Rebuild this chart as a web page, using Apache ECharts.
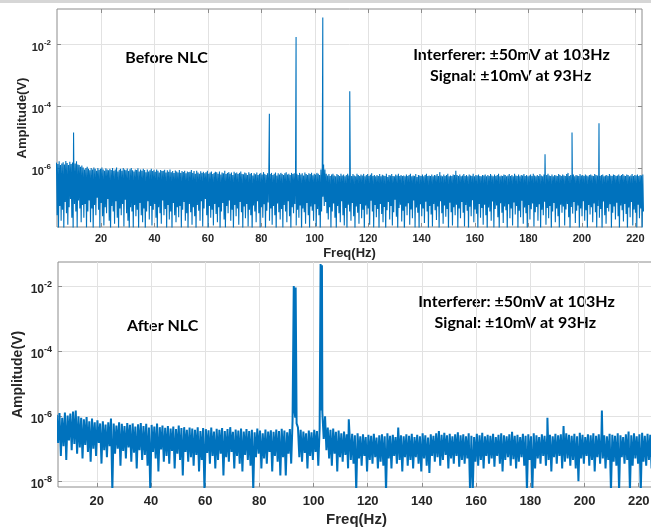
<!DOCTYPE html>
<html>
<head>
<meta charset="utf-8">
<script src="https://cdn.jsdelivr.net/npm/echarts@6/dist/echarts.min.js"></script>
<style>
html, body { margin: 0; padding: 0; background: #fff; }
#chart { width: 651px; height: 529px; }
</style>
</head>
<body>
<div id="chart"></div>
<script>
// noise floor, in nV.
// hi[i] sits at f0 + i*step Hz, lo[i] half a step later
const beforeF0 = 3.3;
const beforeStep = 0.5;
const beforeHi = [
  1500,1350,1650,1250,1400,1550,1300,1700,1450,1250,1600,1350,1500,1200,1400,1650,1300,1250,1100,1200,
  1050,900,1000,1100,950,850,1000,900,1050,950,820,1000,880,950,1050,900,820,980,900,850,
  950,860,1000,820,900,1050,780,880,950,820,1000,900,850,960,800,920,1000,850,780,900,
  870,980,780,900,820,950,860,740,900,780,850,950,800,880,760,900,820,720,860,800,
  820,880,720,850,760,900,740,800,690,840,780,720,860,700,800,750,820,680,780,740,
  760,860,700,800,660,820,720,650,790,700,760,680,740,820,660,720,780,640,700,760,
  740,660,780,620,720,680,820,640,700,740,660,720,600,760,680,720,640,700,780,650,
  630,720,680,600,740,650,700,580,680,630,720,600,660,700,620,740,650,600,680,720,
  640,700,600,660,720,580,680,620,700,650,600,680,740,620,660,600,700,640,680,620,
  660,600,700,620,680,580,720,640,600,680,640,700,590,660,620,700,650,600,900,1100,
  1300,900,660,580,640,560,620,660,580,540,640,600,560,660,580,620,540,600,660,580,
  600,560,640,580,540,660,600,560,620,580,650,540,600,640,560,610,680,560,600,540,
  600,560,640,540,610,580,560,660,520,600,580,640,560,540,620,580,660,560,600,550,
  580,540,620,560,600,660,540,580,560,640,520,600,580,560,620,540,600,660,560,580,
  560,620,540,600,580,640,560,740,580,540,620,560,600,660,540,580,560,620,600,820,
  600,560,620,540,580,640,560,600,540,620,580,560,660,540,600,580,620,560,540,600,
  580,620,540,600,560,640,580,540,620,560,600,660,540,580,560,620,600,540,580,640,
  560,600,540,660,580,560,620,540,600,580,640,560,600,540,580,620,560,660,580,540,
  600,560,640,580,540,620,560,600,660,580,560,620,540,600,580,560,640,600,560,620,
  580,560,640,700,560,600,580,620,540,600,580,560,640,580,600,560,620,580,540,600,
  620,580,560,640,600,580,660,560,600,620,540,580,600,560,640,580,560,620,600,560,
  580,620,560,600,640,580,560,620,600,540,580,640,560,600,580,620,560,600,580,620
];
const beforeLo = [
  30,9,60,20,45,10,80,35,15,55,100,25,8,70,40,12,90,50,18,65,
  25,70,12,40,90,18,50,9,65,30,110,45,11,75,28,14,55,35,100,20,
  9,60,40,16,85,25,10,50,30,70,13,95,35,20,8,55,40,12,65,28,
  45,10,75,30,18,50,9,40,85,22,60,14,45,70,25,10,55,35,16,90,
  30,48,11,65,22,40,9,75,30,18,55,26,60,12,45,80,20,35,10,70,
  38,15,55,28,9,65,42,20,85,13,50,100,30,10,60,25,45,14,70,33,
  18,55,9,40,75,22,12,60,35,90,20,45,10,65,28,50,15,80,38,11,
  58,24,70,13,45,30,9,62,40,18,85,35,12,55,25,68,10,42,78,20,
  50,15,60,30,9,72,38,22,48,12,65,40,18,85,28,10,55,35,70,14,
  45,25,62,9,50,38,16,75,30,11,58,42,20,68,13,48,30,9,40,120,
  60,80,35,22,55,12,40,72,25,10,60,35,18,85,30,14,52,9,66,40,
  20,75,28,11,58,36,16,70,24,45,9,62,32,50,15,88,40,12,64,26,
  48,10,70,33,18,56,9,44,80,22,60,14,38,95,27,11,52,66,19,42,
  8,58,30,74,15,46,24,90,12,54,36,10,68,28,50,17,82,40,9,60,
  32,13,70,44,21,58,10,86,35,16,62,27,48,9,76,38,14,55,30,66,
  11,50,24,80,36,13,64,42,9,57,28,92,18,46,34,10,70,25,52,15,
  66,30,8,54,40,20,84,12,48,62,26,10,73,36,17,58,44,9,68,24,
  50,14,78,32,60,11,42,26,88,16,54,35,9,64,22,47,72,13,38,56,
  20,68,10,45,30,82,15,52,24,60,9,40,75,18,50,28,12,66,36,58,
  14,46,70,26,9,56,34,80,17,42,62,11,50,28,86,20,44,10,64,32,
  55,18,72,38,12,60,25,48,9,84,30,16,52,40,68,11,36,58,22,76,
  28,10,62,44,19,70,33,9,54,26,80,14,46,36,12,66,24,50,9,40
];
// [Hz, V]
const beforePeaks = [
  [9.7, 1.4e-5], [83.0, 5.7e-5], [93.0, 1.7e-2], [103.0, 7.2e-2],
  [113.1, 3.0e-4], [186.2, 2.8e-6], [196.3, 1.4e-5], [206.4, 2.8e-5]
];

const afterF0 = 5.25;
const afterStep = 1;
const afterHi = [
  1100,1250,900,1300,1050,1200,1400,1500,1000,900,
  800,950,700,850,650,750,600,700,550,650,
  850,600,520,650,580,500,620,540,600,480,
  560,620,500,580,450,540,480,600,460,520,
  440,500,420,480,400,520,430,460,380,450,
  420,380,460,350,430,400,370,450,340,410,
  380,430,350,400,460,330,390,360,420,340,
  400,350,380,320,420,360,300,390,340,370,
  330,390,350,410,360,320,400,700,900,450,
  380,340,300,360,320,380,350,420,1300,1000,
  450,380,420,330,360,300,340,280,320,290,
  260,300,240,280,230,270,250,290,220,260,
  280,240,300,250,270,230,450,260,240,280,
  250,290,230,270,240,300,260,220,280,250,
  300,350,270,310,260,290,240,280,320,260,
  280,240,300,250,230,290,260,310,240,270,
  250,290,230,270,300,260,240,280,330,250,
  270,230,290,250,280,240,300,260,230,280,
  250,300,270,240,290,260,280,500,300,270,
  250,290,240,310,270,230,280,260,300,250,
  280,300,260,240,290,270,250,300,260,230,
  280,340,260,300,240,280,310,250,290,270,260
];
const afterLo = [
  150,60,120,45,180,90,140,70,110,50,
  130,80,40,100,60,150,35,90,55,120,
  5,70,100,30,85,50,110,40,75,25,
  90,45,65,30,5,80,50,20,95,40,
  60,35,85,25,70,45,15,80,40,55,
  30,65,20,45,5,75,35,60,25,45,
  70,15,55,40,80,25,60,35,20,65,
  45,30,5,55,70,25,50,35,80,20,
  60,40,15,55,15,70,35,2000,600,55,
  40,75,25,60,45,80,30,1500,200,90,
  50,30,70,20,55,40,65,25,45,35,
  5,50,30,60,20,45,35,55,25,40,
  30,5,50,25,60,35,45,20,55,30,
  45,25,55,35,20,50,30,18,60,40,
  55,30,45,65,25,50,35,60,28,45,
  35,50,5,5,40,30,45,25,60,35,
  50,28,60,35,20,45,55,30,48,25,
  40,55,30,5,45,5,25,50,35,60,
  30,45,20,55,35,60,25,40,50,30,
  45,25,10,50,35,60,30,45,20,55,
  35,50,25,45,5,40,30,5,55,35,
  45,5,30,50,35,5,40,30,45,25,40
];
const afterPeaks = [
  [92.7, 1.0e-2], [93.4, 9.0e-3], [102.6, 4.7e-2], [103.1, 4.3e-2],
  [113.0, 8.0e-7], [186.3, 9.0e-7], [206.4, 1.5e-6]
];

const xTicks = [20, 40, 60, 80, 100, 120, 140, 160, 180, 200, 220];
const yTicks = [1e-8, 1e-6, 1e-4, 1e-2];

const blue = '#0072BD';
const frame = '#8c8c8c';
const gridColor = '#e2e2e2';
const ink = '#262626';

function spectrum(f0, step, hi, lo, peaks) {
  const pts = [];
  for (let i = 0; i < hi.length; i++) {
    pts.push([f0 + i * step, hi[i] * 1e-9]);
    if (i < lo.length) pts.push([f0 + (i + 0.5) * step, lo[i] * 1e-9]);
  }
  peaks.forEach(p => pts.push(p));
  pts.sort((a, b) => a[0] - b[0]);
  return pts;
}

function powLabel(v) {
  const e = Math.round(Math.log10(v));
  return '{b|10}{s|' + e + '}';
}

function xAxisFor(grid, min, max, fs, gap, top) {
  return {
    gridIndex: grid, type: 'value', min: min, max: max,
    position: top ? 'top' : 'bottom',
    axisLine: { show: false },
    axisTick: { inside: true, length: 4, customValues: xTicks, lineStyle: { color: frame } },
    axisLabel: top ? { show: false } : {
      customValues: xTicks, fontSize: fs, fontWeight: 'bold', color: ink,
      fontFamily: 'Liberation Sans', margin: fs === 11 ? 6 : 8
    },
    splitLine: top ? { show: false } : { lineStyle: { color: gridColor } },
    name: top ? '' : 'Freq(Hz)', nameLocation: 'middle', nameGap: gap,
    nameTextStyle: { fontSize: fs + 2, fontWeight: 'bold', color: ink, fontFamily: 'Liberation Sans' }
  };
}

function yAxisFor(grid, minExp, maxExp, fs, gap, right) {
  return {
    gridIndex: grid, type: 'log', logBase: 10,
    min: Math.pow(10, minExp), max: Math.pow(10, maxExp),
    position: right ? 'right' : 'left',
    axisLine: { show: false },
    axisTick: { inside: true, length: 4, customValues: yTicks, lineStyle: { color: frame } },
    axisLabel: right ? { show: false } : {
      customValues: yTicks, formatter: powLabel, margin: 6,
      rich: {
        b: { fontSize: fs, fontWeight: 'bold', color: ink, fontFamily: 'Liberation Sans', padding: [7, 0, 0, 0] },
        s: { fontSize: fs - 3, fontWeight: 'bold', color: ink, fontFamily: 'Liberation Sans', padding: [0, 0, 3, 0] }
      }
    },
    splitLine: right ? { show: false } : { lineStyle: { color: gridColor } },
    name: right ? '' : 'Amplitude(V)', nameLocation: 'middle', nameGap: gap, nameRotate: 90,
    nameMoveOverlap: false,
    nameTextStyle: { fontSize: fs + 2, fontWeight: 'bold', color: ink, fontFamily: 'Liberation Sans' }
  };
}

function note(text, x, y, size) {
  return {
    type: 'text', x: x, y: y, silent: true,
    style: {
      text: text, font: 'bold ' + size + 'px Lato', fill: '#000',
      align: 'center', verticalAlign: 'middle', textAlign: 'center', textVerticalAlign: 'middle'
    }
  };
}

const chart = echarts.init(document.getElementById('chart'));
chart.setOption({
  animation: false,
  backgroundColor: '#fff',
  grid: [
    { left: 57, top: 9, width: 585, height: 218, show: true, borderColor: frame, borderWidth: 1,
      containLabel: false, outerBoundsMode: 'none' },
    { left: 58, top: 262, width: 597, height: 225, show: true, borderColor: frame, borderWidth: 1,
      containLabel: false, outerBoundsMode: 'none' }
  ],
  xAxis: [
    xAxisFor(0, 3.5, 222.5, 11, 20, false),
    xAxisFor(0, 3.5, 222.5, 11, 20, true),
    xAxisFor(1, 5.7, 226, 13, 25, false)
  ],
  yAxis: [
    yAxisFor(0, -7.9, -0.87, 11, 28, false),
    yAxisFor(0, -7.9, -0.87, 11, 28, true),
    yAxisFor(1, -8.175, -1.263, 12, 33, false)
  ],
  series: [
    {
      type: 'line', xAxisIndex: 0, yAxisIndex: 0, showSymbol: false, silent: true,
      data: spectrum(beforeF0, beforeStep, beforeHi, beforeLo, beforePeaks),
      lineStyle: { color: blue, width: 1.1 }, itemStyle: { color: blue }
    },
    {
      type: 'line', xAxisIndex: 2, yAxisIndex: 2, showSymbol: false, silent: true,
      data: spectrum(afterF0, afterStep, afterHi, afterLo, afterPeaks),
      lineStyle: { color: blue, width: 2 }, itemStyle: { color: blue }
    }
  ],
  graphic: [
    { type: 'rect', shape: { x: 0, y: 0, width: 651, height: 3 }, style: { fill: '#d6d6d6' }, silent: true },
    note('Before NLC', 166.5, 57.5, 16),
    note('Interferer: \u00b150mV at 103Hz', 511.5, 55, 16),
    note('Signal: \u00b110mV at 93Hz', 510.7, 76, 16),
    note('After NLC', 162.7, 326, 16),
    note('Interferer: \u00b150mV at 103Hz', 516.5, 302.3, 16),
    note('Signal: \u00b110mV at 93Hz', 515.3, 323.3, 16)
  ]
});
</script>
</body>
</html>
